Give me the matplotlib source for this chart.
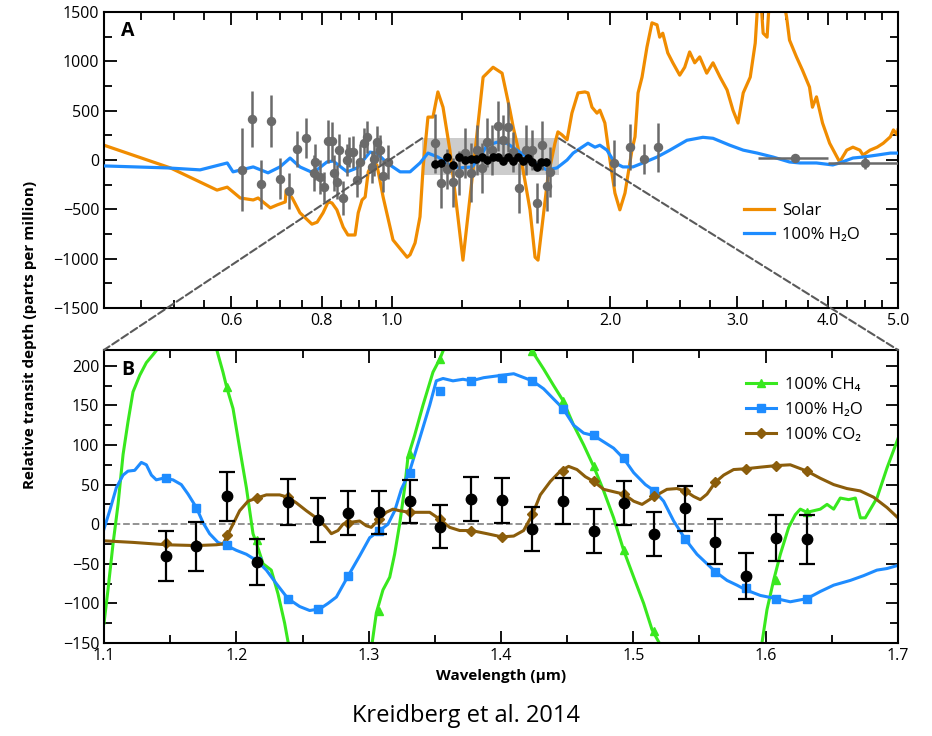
import numpy as np
import matplotlib
matplotlib.use("Agg")
import matplotlib.pyplot as plt
from matplotlib.patches import Rectangle, ConnectionPatch
from matplotlib.ticker import FixedLocator, FormatStrFormatter, NullFormatter, MultipleLocator

plt.rcParams['font.family'] = ['Open Sans', 'DejaVu Sans']

# ---- panel A: model spectra (log wavelength) ----
solar_wl = [0.400, 0.494, 0.573, 0.592, 0.617, 0.643, 0.653, 0.679, 0.694, 0.712, 0.714, 0.728,
            0.746, 0.775, 0.788, 0.803, 0.816, 0.826, 0.839, 0.856, 0.869, 0.889, 0.898, 0.909,
            0.918, 0.927, 0.941, 0.953, 0.972, 1.003, 1.049, 1.059, 1.076, 1.093, 1.104, 1.121,
            1.139, 1.157, 1.176, 1.202, 1.233, 1.253, 1.294, 1.336, 1.379, 1.419, 1.455, 1.470,
            1.517, 1.551, 1.576, 1.591, 1.611, 1.642, 1.679, 1.695, 1.717, 1.745, 1.772, 1.807,
            1.847, 1.865, 1.889, 1.919, 1.937, 1.968, 2.000, 2.032, 2.064, 2.098, 2.145, 2.166,
            2.187, 2.215, 2.250, 2.286, 2.323, 2.343, 2.366, 2.404, 2.443, 2.497, 2.537, 2.577,
            2.619, 2.661, 2.721, 2.776, 2.839, 2.903, 2.958, 3.006, 3.056, 3.125, 3.175, 3.196,
            3.226, 3.256, 3.297, 3.327, 3.432, 3.508, 3.541, 3.620, 3.690, 3.773, 3.809, 3.858,
            3.933, 4.023, 4.153, 4.248, 4.332, 4.429, 4.473, 4.575, 4.679, 4.771, 4.880, 4.928,
            4.990, 5.000]
solar_depth = [150, -80, -305, -275, -385, -405, -385, -485, -455, -425, -305, -385,
               -535, -650, -630, -535, -425, -435, -505, -680, -760, -760, -535, -405,
               -375, -120, -30, -50, -375, -810, -985, -960, -840, -575, -70, 435,
               435, 690, 535, 100, -575, -1015, -100, 840, 940, 880, 505, 335,
               -100, -505, -985, -1015, -680, -170, 170, 285, 255, 205, 475, 680,
               690, 680, 535, 475, 505, 375, 0, -335, -505, -335, 100, 235,
               680, 840, 1145, 1390, 1370, 1245, 1285, 1085, 985, 860, 940, 1095,
               985, 1045, 880, 985, 840, 710, 505, 375, 680, 840, 1185, 1520,
               1720, 1285, 1245, 1720, 1820, 1450, 1215, 1045, 910, 740, 535, 640,
               375, 170, -20, 100, 130, 100, 50, 100, 130, 170, 235, 305,
               255, 305]

h2o_wl = [0.400, 0.489, 0.543, 0.592, 0.603, 0.643, 0.674, 0.700, 0.723, 0.746, 0.778, 0.813,
          0.829, 0.867, 0.895, 0.932, 0.953, 0.984, 1.026, 1.059, 1.093, 1.121, 1.157, 1.202,
          1.241, 1.290, 1.323, 1.353, 1.397, 1.441, 1.488, 1.536, 1.585, 1.637, 1.690, 1.745,
          1.779, 1.865, 1.907, 1.937, 1.981, 2.032, 2.084, 2.152, 2.221, 2.323, 2.420, 2.555,
          2.688, 2.776, 2.928, 3.056, 3.196, 3.360, 3.541, 3.660, 3.858, 4.063, 4.153, 4.332,
          4.473, 4.679, 4.880, 5.000]
h2o_depth = [-60, -80, -100, -30, -120, -70, -130, -70, 20, -70, -130, -20,
             -10, -120, -80, 80, 70, -30, -120, -120, -30, 70, 30, -50,
             -80, -70, 30, 150, 180, 170, 100, 30, -50, -100, -80, 0,
             70, 170, 130, 150, 100, -30, -70, -70, -30, 30, 100, 200,
             230, 220, 150, 100, 70, 30, -20, -30, -30, -50, -30, 20,
             30, 50, 70, 70]

# ---- panel A: observations ----
obs_wl = [0.621, 0.641, 0.659, 0.681, 0.700, 0.720, 0.739, 0.761, 0.780, 0.783, 0.795, 0.806,
          0.816, 0.826, 0.832, 0.839, 0.845, 0.856, 0.867, 0.872, 0.884, 0.895, 0.903, 0.915,
          0.924, 0.938, 0.944, 0.953, 0.963, 0.972, 0.987,
          1.146, 1.169, 1.191, 1.214, 1.238, 1.261, 1.286, 1.310, 1.331, 1.353, 1.374, 1.401,
          1.423, 1.446, 1.469, 1.497, 1.532, 1.561, 1.586, 1.611, 1.637, 1.652,
          2.026, 2.132, 2.228, 2.330]
obs_depth = [-100, 415, -245, 395, -190, -315, 110, 225, -130, -20, -170, -275,
             190, 190, -130, -225, 100, -385, 0, 80, 80, -205, -20, 170,
             235, -70, 10, 180, 100, -160, -20,
             170, -235, -90, -225, -130, 70, -130, 100, -80, 180, 100, 345,
             205, 335, 80, -285, 100, 100, -435, 150, -265, -120,
             -30, 130, 10, 130]
obs_err = [420, 280, 250, 260, 210, 180, 180, 200, 180, 180, 170, 150,
           220, 200, 180, 170, 160, 170, 160, 150, 160, 170, 180, 150,
           160, 160, 170, 160, 150, 160, 170,
           300, 250, 200, 250, 220, 250, 300, 250, 250, 250, 250, 250,
           250, 250, 200, 250, 250, 200, 200, 250, 250, 250,
           230, 230, 150, 250]

spitzer_wl = [3.6, 4.5]
spitzer_depth = [20, -30]
spitzer_yerr = [30, 60]
spitzer_xerr = [[0.4, 0.5], [0.4, 0.5]]

# ---- panel B: WFC3 data ----
wfc3_wl = [1.1466, 1.1698, 1.1927, 1.2154, 1.2388, 1.2620, 1.2846, 1.3078, 1.3310, 1.3540, 1.3776,
           1.4005, 1.4237, 1.4469, 1.4700, 1.4927, 1.5159, 1.5393, 1.5620, 1.5851, 1.6080, 1.6312]
wfc3_depth = [-40, -28, 35, -48, 28, 5, 14, 15, 29, -3, 32,
              30, -6, 29, -9, 27, -12, 20, -22, -66, -18, -19]
wfc3_err = [32, 31, 31, 29, 29, 28, 28, 27, 27, 27, 28,
            28, 28, 29, 28, 28, 28, 28, 28, 29, 29, 31]

# ---- panel B: models ----
ch4_wl = [1.1000, 1.1030, 1.1068, 1.1106, 1.1144, 1.1181, 1.1219, 1.1270, 1.1320, 1.1370, 1.1408,
          1.1450, 1.1800, 1.1849, 1.1899, 1.1927, 1.1975, 1.2025, 1.2076, 1.2126, 1.2154, 1.2202,
          1.2264, 1.2315, 1.2365, 1.2390, 1.2420, 1.3000, 1.3028, 1.3058, 1.3108, 1.3159, 1.3196,
          1.3234, 1.3272, 1.3297, 1.3325, 1.3347, 1.3410, 1.3486, 1.3536, 1.3570, 1.3600, 1.4200,
          1.4222, 1.4322, 1.4398, 1.4469, 1.4549, 1.4625, 1.4700, 1.4776, 1.4851, 1.4927, 1.5003,
          1.5078, 1.5141, 1.5196, 1.5220, 1.5950, 1.5972, 1.6010, 1.6060, 1.6111, 1.6174, 1.6224,
          1.6262, 1.6312, 1.6363, 1.6413, 1.6464, 1.6514, 1.6564, 1.6627, 1.6678, 1.6716, 1.6753,
          1.6841, 1.6917, 1.7000]
ch4_depth = [-125, -83, -25, 25, 88, 129, 167, 188, 204, 214, 222,
             250, 250, 222, 192, 173, 146, 96, 46, -12, -25, -50,
             -58, -88, -125, -148, -170, -170, -148, -112, -83, -67, -38,
             0, 46, 85, 100, 112, 150, 192, 208, 222, 250, 250,
             222, 196, 175, 156, 125, 100, 73, 42, 8, -33, -67,
             -100, -133, -150, -170, -170, -150, -108, -71, -38, -4, 12,
             19, 15, 17, 19, 25, 19, 33, 31, 33, 8, 8,
             33, 71, 108]

h2o_b_wl = [1.1000, 1.1043, 1.1093, 1.1144, 1.1181, 1.1232, 1.1282, 1.1320, 1.1358, 1.1395, 1.1446,
            1.1521, 1.1584, 1.1635, 1.1698, 1.1748, 1.1798, 1.1861, 1.1927, 1.2000, 1.2076, 1.2154,
            1.2227, 1.2302, 1.2390, 1.2479, 1.2554, 1.2630, 1.2693, 1.2756, 1.2846, 1.2932, 1.3008,
            1.3083, 1.3146, 1.3197, 1.3247, 1.3310, 1.3385, 1.3461, 1.3511, 1.3562, 1.3637, 1.3713,
            1.3776, 1.3869, 1.4005, 1.4096, 1.4237, 1.4322, 1.4398, 1.4469, 1.4549, 1.4625, 1.4700,
            1.4776, 1.4851, 1.4927, 1.5003, 1.5091, 1.5159, 1.5229, 1.5305, 1.5393, 1.5481, 1.5557,
            1.5620, 1.5708, 1.5783, 1.5851, 1.5960, 1.6080, 1.6186, 1.6312, 1.6413, 1.6514, 1.6640,
            1.6740, 1.6841, 1.6917, 1.7000]
h2o_b_depth = [-6, 17, 46, 62, 67, 68, 78, 75, 62, 56, 58,
               56, 50, 38, 21, 2, -12, -23, -27, -33, -38, -46,
               -58, -75, -94, -104, -109, -107, -100, -92, -65, -40, -17,
               -8, 0, 17, 44, 67, 108, 150, 181, 184, 181, 183,
               181, 185, 188, 190, 181, 171, 158, 146, 125, 115, 112,
               104, 96, 83, 65, 50, 42, 29, 4, -19, -38, -50,
               -60, -71, -77, -83, -90, -94, -98, -94, -85, -77, -71,
               -65, -58, -56, -52]

co2_wl = [1.1000, 1.1219, 1.1471, 1.1698, 1.1849, 1.1900, 1.1927, 1.1975, 1.2025, 1.2088, 1.2154,
          1.2227, 1.2327, 1.2390, 1.2453, 1.2529, 1.2620, 1.2680, 1.2718, 1.2768, 1.2806, 1.2846,
          1.2932, 1.2982, 1.3020, 1.3078, 1.3133, 1.3184, 1.3234, 1.3310, 1.3385, 1.3461, 1.3540,
          1.3612, 1.3688, 1.3776, 1.3894, 1.4005, 1.4096, 1.4171, 1.4237, 1.4297, 1.4373, 1.4448,
          1.4511, 1.4574, 1.4637, 1.4700, 1.4776, 1.4851, 1.4927, 1.5003, 1.5066, 1.5159, 1.5254,
          1.5330, 1.5393, 1.5456, 1.5506, 1.5557, 1.5620, 1.5683, 1.5758, 1.5851, 1.5960, 1.6080,
          1.6186, 1.6312, 1.6413, 1.6514, 1.6614, 1.6715, 1.6816, 1.6917, 1.7000]
co2_depth = [-21, -23, -26, -27, -26, -25, -16, 0, 17, 29, 33,
             37, 37, 34, 27, 17, 6, -4, -12, -8, 0, 2,
             4, -2, -4, 6, 15, 19, 17, 15, 15, 15, 6,
             -4, -8, -8, -12, -16, -15, -8, 12, 37, 54, 67,
             73, 69, 60, 54, 44, 41, 38, 29, 25, 35, 44,
             45, 42, 35, 31, 38, 53, 62, 69, 70, 72, 74,
             75, 67, 58, 50, 45, 42, 34, 21, 8]

# binned model values at the WFC3 wavelengths
ch4_bin = [300, 350, 173, -20, -180, -260, -250, -110, 88, 208, 280,
           290, 219, 156, 73, -33, -135, -250, -260, -200, -71, 15]
h2o_bin = [58, 21, -26, -46, -94, -107, -66, -8, 65, 168, 181,
           185, 181, 146, 112, 84, 42, -19, -61, -80, -94, -94]
co2_bin = [-24, -26, -14, 33, 34, 6, 2, 6, 15, 6, -8,
           -16, 13, 67, 54, 38, 35, 42, 53, 70, 74, 67]

orange = '#f08c00'
blue = '#1e8cff'
green = '#38e81e'
brown = '#8b5d0b'
gray = '#6a6a6a'

fig = plt.figure(figsize=(9.32, 7.36), dpi=100)
ax1 = fig.add_axes([0.1116, 0.5815, 0.8519, 0.4022])
ax2 = fig.add_axes([0.1116, 0.1264, 0.8519, 0.3981])

# ---------- panel A ----------
ax1.add_patch(Rectangle((1.1, -150), 0.6, 370, facecolor='#cccccc', edgecolor='none', zorder=0))
ax1.plot(solar_wl, solar_depth, color=orange, lw=2.3, label='Solar', zorder=2)
ax1.plot(h2o_wl, h2o_depth, color=blue, lw=2.3, label='100% H₂O', zorder=3)
ax1.errorbar(obs_wl, obs_depth, yerr=obs_err, fmt='o', color=gray, ms=5.8, elinewidth=1.8,
             capsize=0, zorder=4)
ax1.errorbar(spitzer_wl, spitzer_depth, yerr=spitzer_yerr, xerr=spitzer_xerr, fmt='o',
             color=gray, ms=5.8, elinewidth=1.8, capsize=0, zorder=4)
ax1.plot(wfc3_wl, wfc3_depth, 'o', color='black', ms=5.2, zorder=5)

ax1.set_xscale('log')
ax1.set_xlim(0.4, 5.0)
ax1.set_ylim(-1500, 1500)
ax1.xaxis.set_major_locator(FixedLocator([0.6, 0.8, 1.0, 2.0, 3.0, 4.0, 5.0]))
ax1.xaxis.set_major_formatter(FormatStrFormatter('%.1f'))
ax1.xaxis.set_minor_locator(FixedLocator(list(np.arange(0.45, 1.0, 0.05)) +
                                         list(np.arange(1.25, 5.0, 0.25))))
ax1.xaxis.set_minor_formatter(NullFormatter())
ax1.yaxis.set_major_locator(MultipleLocator(500))
ax1.yaxis.set_minor_locator(MultipleLocator(250))
ax1.text(0.022, 0.935, 'A', transform=ax1.transAxes, fontsize=14, fontweight='bold',
         ha='left', va='center')
ax1.legend(loc='upper left', bbox_to_anchor=(0.787, 0.407), frameon=False, fontsize=12,
           handlelength=1.8, labelspacing=0.5, handletextpad=0.5)

# ---------- panel B ----------
ax2.axhline(0, color='#8a8a8a', ls='--', lw=1.3, zorder=1)
ax2.plot(ch4_wl, ch4_depth, color=green, lw=2.2, zorder=2)
ax2.plot(h2o_b_wl, h2o_b_depth, color=blue, lw=2.2, zorder=2)
ax2.plot(co2_wl, co2_depth, color=brown, lw=2.2, zorder=2)
ax2.plot(wfc3_wl, ch4_bin, '^', color=green, ms=5.5, zorder=3)
ax2.plot(wfc3_wl, h2o_bin, 's', color=blue, ms=5.5, zorder=3)
ax2.plot(wfc3_wl, co2_bin, 'D', color=brown, ms=5.5, zorder=3)
ax2.errorbar(wfc3_wl, wfc3_depth, yerr=wfc3_err, fmt='o', color='black', ms=7.5,
             elinewidth=1.6, capsize=5.5, capthick=1.6, zorder=5)
# legend proxies
ax2.plot([], [], '-^', color=green, lw=2.2, ms=5.5, label='100% CH₄')
ax2.plot([], [], '-s', color=blue, lw=2.2, ms=5.5, label='100% H₂O')
ax2.plot([], [], '-D', color=brown, lw=2.2, ms=5.5, label='100% CO₂')

ax2.set_xlim(1.1, 1.7)
ax2.set_ylim(-150, 220)
ax2.xaxis.set_major_locator(MultipleLocator(0.1))
ax2.xaxis.set_minor_locator(MultipleLocator(0.05))
ax2.xaxis.set_major_formatter(FormatStrFormatter('%.1f'))
ax2.yaxis.set_major_locator(MultipleLocator(50))
ax2.yaxis.set_minor_locator(MultipleLocator(25))
ax2.text(0.022, 0.93, 'B', transform=ax2.transAxes, fontsize=14, fontweight='bold',
         ha='left', va='center')
ax2.legend(loc='upper left', bbox_to_anchor=(0.79, 0.96), frameon=False, fontsize=12,
           handlelength=1.8, labelspacing=0.55, handletextpad=0.5)
ax2.set_xlabel('Wavelength (µm)', fontsize=11, fontweight='bold', labelpad=4)

for ax in (ax1, ax2):
    ax.tick_params(which='both', direction='in', top=True, right=True, labelsize=11.5)
    ax.tick_params(which='major', length=9, width=1.3)
    ax.tick_params(which='minor', length=6, width=1.3)
    for sp in ax.spines.values():
        sp.set_linewidth(1.5)

# zoom connectors
for xw in (1.1, 1.7):
    con = ConnectionPatch(xyA=(xw, 220), coordsA=ax1.transData, xyB=(xw, 220),
                          coordsB=ax2.transData, color='#5a5a5a', ls='--', lw=1.5, zorder=10)
    fig.add_artist(con)

fig.text(30 / 932, 1 - 335 / 736, 'Relative transit depth (parts per million)', rotation=90,
         ha='center', va='center', fontsize=11, fontweight='bold')
fig.text(0.5, 1 - 716 / 736, 'Kreidberg et al. 2014', ha='center', va='center', fontsize=17)

fig.savefig('out.png', dpi=100, facecolor='white')
